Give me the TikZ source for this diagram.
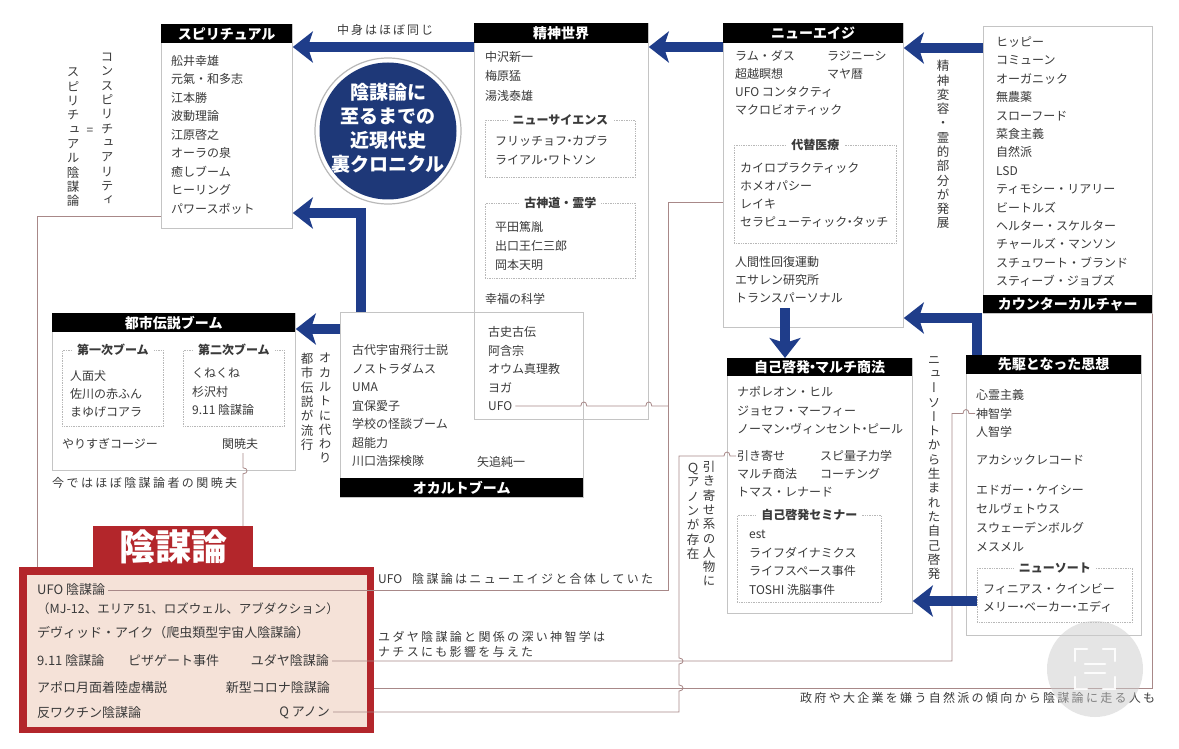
\documentclass[tikz,border=0pt]{standalone}
\usepackage{fontspec}
\setmainfont{Noto Sans CJK JP}
\newfontfamily\vfont[RawFeature={+vert}]{Noto Sans CJK JP}
\usetikzlibrary{arrows.meta,calc}
\definecolor{navy}{HTML}{1F3D8A}
\definecolor{cnavy}{HTML}{1E3878}
\definecolor{rbox}{HTML}{B3262B}
\definecolor{pinkfill}{HTML}{F5E2D8}
\definecolor{conn}{HTML}{A88888}
\definecolor{bgray}{HTML}{C4C4C4}
\definecolor{sgray}{HTML}{B8B8B8}
\definecolor{txt}{HTML}{3A3A3A}
\ExplSyntaxOn
\NewDocumentCommand\vtxt{m}{\seq_clear:N \l_tmpa_seq \tl_map_inline:nn {#1}{\seq_put_right:Nn \l_tmpa_seq {##1}}\seq_use:Nn \l_tmpa_seq {\\}}
\NewDocumentCommand\spr{mm}{\makebox[#1][s]{\seq_clear:N \l_tmpa_seq \tl_map_inline:nn {#2}{\seq_put_right:Nn \l_tmpa_seq {##1}}\seq_use:Nn \l_tmpa_seq {\hfil}}}
\ExplSyntaxOff
\newcommand\nd{\makebox[5pt][c]{・}}
\newcommand\mkbox[6][box]{\node[#1, anchor=north west, minimum width={(#5)-(#3)}, minimum height={(#6)-(#4)}] (#2) at (#3,#4) {};}
\newcommand\mkhdr[6]{\node[hdr, minimum width={(#4)-(#2)}, minimum height={(#5)-(#3)}] (#1) at (#2,#3) {#6};}
\newcommand\itms[6][itm]{\foreach \itx [count=\ci] in {#6} {\node[#1] (#2\ci) at (#3,{#4+(\ci-1)*(#5)}) {\itx};}}
\begin{document}
\begin{tikzpicture}[x=1pt,y=-1pt,
  box/.style={draw=bgray, line width=0.8pt, inner sep=0pt},
  hdr/.style={fill=black, text=white, font=\fontsize{14}{16}\selectfont\bfseries, inner sep=0pt, anchor=north west},
  sub/.style={draw=sgray, densely dotted, line width=0.7pt, inner sep=0pt},
  subt/.style={fill=white, text=txt, font=\fontsize{12}{14}\selectfont\bfseries, inner xsep=5pt, inner ysep=1pt},
  itm/.style={text=txt, font=\fontsize{12}{14}\selectfont, anchor=west, inner sep=0pt, text height=10.5pt, text depth=1.5pt},
  itr/.style={itm, font=\fontsize{13}{15}\selectfont},
  lbl/.style={itm},
  vlab/.style={text=txt, font=\vfont\fontsize{12.5}{14.3}\selectfont, align=center, inner sep=0pt, anchor=north},
  conn/.style={draw=conn, line width=0.8pt},
  hopv/.style={out=0,in=0,looseness=2.3},
  hoph/.style={out=90,in=90,looseness=2.3},
  bigarrow/.style={draw=navy, line width=10pt, -{Stealth[length=20pt,width=31pt,inset=5pt]}},
]
\useasboundingbox (0,0) rectangle (1179,749);
\fill[white] (0,0) rectangle (1179,749);

% ---------- スピリチュアル
\mkbox{sp}{161}{24}{292}{228}
\mkhdr{sph}{161}{24}{292}{43}{スピリチュアル}
\itms{spi}{171}{61}{18.5}{舩井幸雄,元氣・和多志,江本勝,波動理論,江原啓之,オーラの泉,癒しブーム,ヒーリング,パワースポット}

% ---------- 精神世界
\mkbox{ss}{474}{23}{648}{419}
\mkhdr{ssh}{474}{23}{648}{43}{精神世界}
\itms{ssi}{485}{57}{19.5}{中沢新一,梅原猛,湯浅泰雄}
\mkbox[sub]{ns}{485}{120}{635}{177}
\node[subt] (nst) at (ns.north) {ニューサイエンス};
\itms{nsi}{495}{141}{19}{フリッチョフ\nd カプラ,ライアル\nd ワトソン}
\mkbox[sub]{kd}{485}{203}{635}{278}
\node[subt] (kdt) at (kd.north) {古神道・霊学};
\itms{kdi}{495}{227}{19}{平田篤胤,出口王仁三郎,岡本天明}
\node[itm] (kf) at (485,299) {幸福の科学};
\itms{ovi}{488}{332}{18.5}{古史古伝,阿含宗,オウム真理教,ヨガ,UFO}

% ---------- オカルトブーム
\mkbox{ok}{340}{312}{583}{497}
\mkhdr{okh}{340}{478}{583}{497}{オカルトブーム}
\itms{oki}{352}{350}{18.5}{古代宇宙飛行士説,ノストラダムス,UMA,宜保愛子,学校の怪談ブーム,超能力,川口浩探検隊}
\node[itm] (yao) at (477,462) {矢追純一};

% ---------- 都市伝説ブーム
\mkbox{ts}{52}{313}{295}{470}
\mkhdr{tsh}{52}{313}{295}{332}{都市伝説ブーム}
\mkbox[sub]{t1}{62}{350}{163}{426}
\node[subt] (t1t) at (t1.north) {第一次ブーム};
\itms{t1i}{70}{376}{18}{人面犬,佐川の赤ふん,まゆげコアラ}
\mkbox[sub]{t2}{183}{350}{284}{426}
\node[subt] (t2t) at (t2.north) {第二次ブーム};
\itms{t2i}{192}{373}{18.5}{くねくね,杉沢村,9.11 陰謀論}
\node[itm] (yarisugi) at (62,444) {やりすぎコージー};
\node[itm] (seki) at (222,444) {関暁夫};
\node[lbl] (imadeha) at (52,483) {\spr{185pt}{今ではほぼ陰謀論者の関暁夫}};

% ---------- ニューエイジ
\mkbox{na}{723}{23}{903}{327}
\mkhdr{nah}{723}{23}{903}{43}{ニューエイジ}
\itms{nai}{735}{56}{18}{ラム・ダス,超越瞑想,UFO コンタクティ,マクロビオティック}
\itms{naj}{827}{56}{18}{ラジニーシ,マヤ暦}
\mkbox[sub]{dm}{734}{145}{896}{243}
\node[subt] (dmt) at (dm.north) {代替医療};
\itms{dmi}{740}{168}{18}{カイロプラクティック,ホメオパシー,レイキ,セラピューティック\nd タッチ}
\itms{nak}{735}{262}{18}{人間性回復運動,エサレン研究所,トランスパーソナル}

% ---------- カウンターカルチャー
\mkbox{cc}{983}{26}{1152}{313}
\mkhdr{cch}{983}{295}{1152}{313}{カウンターカルチャー}
\itms{cci}{996}{42}{18.4}{ヒッピー,コミューン,オーガニック,無農薬,スローフード,菜食主義,自然派,LSD,ティモシー・リアリー,ビートルズ,ヘルター・スケルター,チャールズ・マンソン,スチュワート・ブランド,スティーブ・ジョブズ}

% ---------- 自己啓発・マルチ商法
\mkbox{jk}{727}{358}{912}{613}
\mkhdr{jkh}{727}{358}{912}{376}{自己啓発\nd マルチ商法}
\itms{jki}{737}{392}{18.5}{ナポレオン・ヒル,ジョセフ・マーフィー,ノーマン\nd ヴィンセント\nd ピール}
\itms{jkj}{737}{456}{18}{引き寄せ,マルチ商法,トマス・レナード}
\itms{jkk}{820}{456}{18}{スピ量子力学,コーチング}
\mkbox[sub]{sm}{737}{515}{881}{602}
\node[subt] (smt) at (sm.north) {自己啓発セミナー};
\itms{smi}{749}{534}{18.5}{est,ライフダイナミクス,ライフスペース事件,TOSHI 洗脳事件}

% ---------- 先駆となった思想
\mkbox{sk}{966}{355}{1141}{635}
\mkhdr{skh}{966}{355}{1141}{374}{先駆となった思想}
\itms{ski}{976}{395}{18.5}{心霊主義,神智学,人智学}
\node[itm] (akashic) at (976,460) {アカシックレコード};
\itms{skj}{976}{490}{19}{エドガー・ケイシー,セルヴェトウス,スウェーデンボルグ,メスメル}
\mkbox[sub]{nt}{977}{568}{1132}{622}
\node[subt] (ntt) at (nt.north) {ニューソート};
\itms{nti}{983}{589}{18}{フィニアス・クインビー,メリー\nd ベーカー\nd エディ}

% ---------- 陰謀論
\node[fill=rbox, anchor=north west, minimum width=355pt, minimum height=166pt, inner sep=0pt] (ib) at (19,567) {};
\node[fill=pinkfill, anchor=north west, minimum width=340pt, minimum height=152pt, inner sep=0pt] (ibin) at (27,575) {};
\node[fill=rbox, anchor=north west, minimum width=160pt, minimum height=42pt, inner sep=0pt, text=white, font=\fontsize{36}{40}\selectfont\bfseries] (ibt) at (93,526) {陰謀論};
\node[itr] (ufo) at (37,590) {UFO 陰謀論};
\node[itm, font=\fontsize{12.5}{15}\selectfont] (mj) at (37,609) {（MJ-12、エリア 51、ロズウェル、アブダクション）};
\node[itr] (icke) at (37,633) {デヴィッド・アイク（爬虫類型宇宙人陰謀論）};
\node[itr] (n911) at (37,661) {9.11 陰謀論};
\node[itr] (pizza) at (128,661) {ピザゲート事件};
\node[itr, anchor=east] (yudaya) at (329,661) {ユダヤ陰謀論};
\node[itr] (apollo) at (37,688) {アポロ月面着陸虚構説};
\node[itr, anchor=east] (corona) at (330,688) {新型コロナ陰謀論};
\node[itr] (antivax) at (37,713) {反ワクチン陰謀論};
\node[itr, anchor=east] (qanon) at (330,712) {Q アノン};

% ---------- title circle
\node[circle, fill=white, draw=gray!55, line width=1.2pt, minimum size=146pt, inner sep=0pt] (circo) at (388,131) {};
\node[circle, fill=cnavy, minimum size=137pt, inner sep=0pt] (circ) at (388,131) {};
\node[text=white, font=\fontsize{19}{24}\selectfont\bfseries, align=center, inner sep=0pt] (ctitle) at (388,128) {陰謀論に\\至るまでの\\近現代史\\裏クロニクル};

% ---------- thin connectors
\coordinate (sL) at (37,216);
\draw[conn] (sp.west |- sL) -- (sL) -- (sL |- ib.north);

\coordinate (k1) at (243,453);
\coordinate (k2) at (k1 |- ts.south);
\draw[conn] (k1) -- ($(k2)+(0,-3)$) to[hopv] ($(k2)+(0,3)$) -- (k1 |- ibt.north);

\coordinate (uX) at (668,0);
\coordinate (u1) at (uX |- ufo.east);
\coordinate (u3) at (668,202);
\draw[conn] ($(ufo.east)+(3,0)$) -- (u1) -- (u3) -- (na.west |- u3);
\coordinate (h1) at (ok.east |- ovi5.east);
\coordinate (h2) at (ss.east |- ovi5.east);
\draw[conn] ($(ovi5.east)+(3,0)$) -- ($(h1)+(-3,0)$) to[hoph] ($(h1)+(3,0)$) -- ($(h2)+(-3,0)$) to[hoph] ($(h2)+(3,0)$) -- (uX |- ovi5.east);

\coordinate (qX) at (679,0);
\coordinate (qA) at (qX |- qanon.east);
\coordinate (qB) at (qX |- corona.east);
\coordinate (qC) at (qX |- yudaya.east);
\coordinate (qD) at (qX |- jkj1.west);
\coordinate (qE) at (jk.west |- jkj1.west);
\draw[conn] ($(qanon.east)+(3,0)$) -- (qA) -- ($(qB)+(0,3)$) to[hopv] ($(qB)+(0,-3)$) -- ($(qC)+(0,3)$) to[hopv] ($(qC)+(0,-3)$) -- (qD) -- ($(qE)+(-3,0)$) to[hoph] ($(qE)+(3,0)$) -- ($(jkj1.west)+(-1,0)$);

\coordinate (yX) at (952,0);
\coordinate (yA) at (yX |- yudaya.east);
\coordinate (yB) at (yX |- ski2.west);
\coordinate (yC) at (sk.west |- ski2.west);
\draw[conn] ($(yudaya.east)+(3,0)$) -- (yA) -- (yB) -- ($(yC)+(-3,0)$) to[hoph] ($(yC)+(3,0)$) -- ($(ski2.west)+(-1,0)$);

\coordinate (cA) at (cc.south east);
\draw[conn] (ib.east |- corona.east) -- (cA |- corona.east) -- (cA);

% ---------- thick arrows
\coordinate (a1y) at (0,47);
\draw[bigarrow] (na.west |- a1y) -- (ss.east |- a1y);
\draw[bigarrow] (ss.west |- a1y) -- (sp.east |- a1y);
\coordinate (a3y) at (0,48);
\draw[bigarrow] (cc.west |- a3y) -- (na.east |- a3y);
\coordinate (a4x) at (361,0);
\coordinate (a4y) at (0,213);
\draw[bigarrow] (ok.north -| a4x) -- (a4x |- a4y) -- (sp.east |- a4y);
\coordinate (a5y) at (0,329);
\draw[bigarrow] (ok.west |- a5y) -- (ts.east |- a5y);
\coordinate (a6s) at (785,308);
\draw[bigarrow] (a6s) -- (a6s |- jk.north);
\coordinate (a7x) at (977,0);
\coordinate (a7y) at (0,318);
\draw[bigarrow] (sk.north -| a7x) -- (a7x |- a7y) -- (na.east |- a7y);
\coordinate (a8y) at (0,601);
\draw[bigarrow] (nt.west |- a8y) -- (jk.east |- a8y);

% ---------- labels
\node[lbl] (same) at (337,30) {\spr{96pt}{中身はほぼ同じ}};
\node[lbl] (ufolbl) at (378,579) {\makebox[34pt][l]{UFO}\spr{241pt}{陰謀論はニューエイジと合体していた}};
\node[lbl] (yudlbl1) at (378,637) {\spr{227pt}{ユダヤ陰謀論と関係の深い神智学は}};
\node[lbl] (yudlbl2) at (378,652) {\spr{155pt}{ナチスにも影響を与えた}};
\node[lbl] (nature) at (800,698) {\spr{355pt}{政府や大企業を嫌う自然派の傾向から陰謀論に走る人も}};

\node[vlab] (v1) at (107,53) {\vtxt{コンスピリチュアリティ}};
\node[text=txt, font=\fontsize{12}{14}\selectfont, inner sep=0pt] (veq) at (90,131) {=};
\node[vlab] (v2) at (73,68) {\vtxt{スピリチュアル陰謀論}};
\node[vlab] (v3) at (325,353) {\vtxt{オカルトに代わり}};
\node[vlab] (v4) at (307,353) {\vtxt{都市伝説が流行}};
\node[vlab] (v5) at (943,60) {\vtxt{精神変容・霊的部分が発展}};
\node[vlab] (v6) at (934,356) {\vtxt{ニューソートから生まれた自己啓発}};
\node[vlab] (v7) at (709,461) {\vtxt{引き寄せ系の人物に}};
\node[vlab] (v8) at (693,463) {\vtxt{Ｑアノンが存在}};

% ---------- overlay circle
\node[circle, fill=black!20, fill opacity=0.5, minimum size=96pt, inner sep=0pt] (wm) at (1095,669) {};
\begin{scope}[white, line width=2.5pt, line cap=round, opacity=0.9]
\draw ($(wm)+(-20,-8)$) -- ($(wm)+(-20,-20)$) -- ($(wm)+(-8,-20)$);
\draw ($(wm)+(8,-20)$) -- ($(wm)+(20,-20)$) -- ($(wm)+(20,-8)$);
\draw ($(wm)+(-20,8)$) -- ($(wm)+(-20,20)$) -- ($(wm)+(-8,20)$);
\draw ($(wm)+(8,20)$) -- ($(wm)+(20,20)$) -- ($(wm)+(20,8)$);
\draw ($(wm)+(-10,-5)$) -- ($(wm)+(10,-5)$);
\draw ($(wm)+(-10,4)$) -- ($(wm)+(10,4)$);
\end{scope}
\end{tikzpicture}
\end{document}
